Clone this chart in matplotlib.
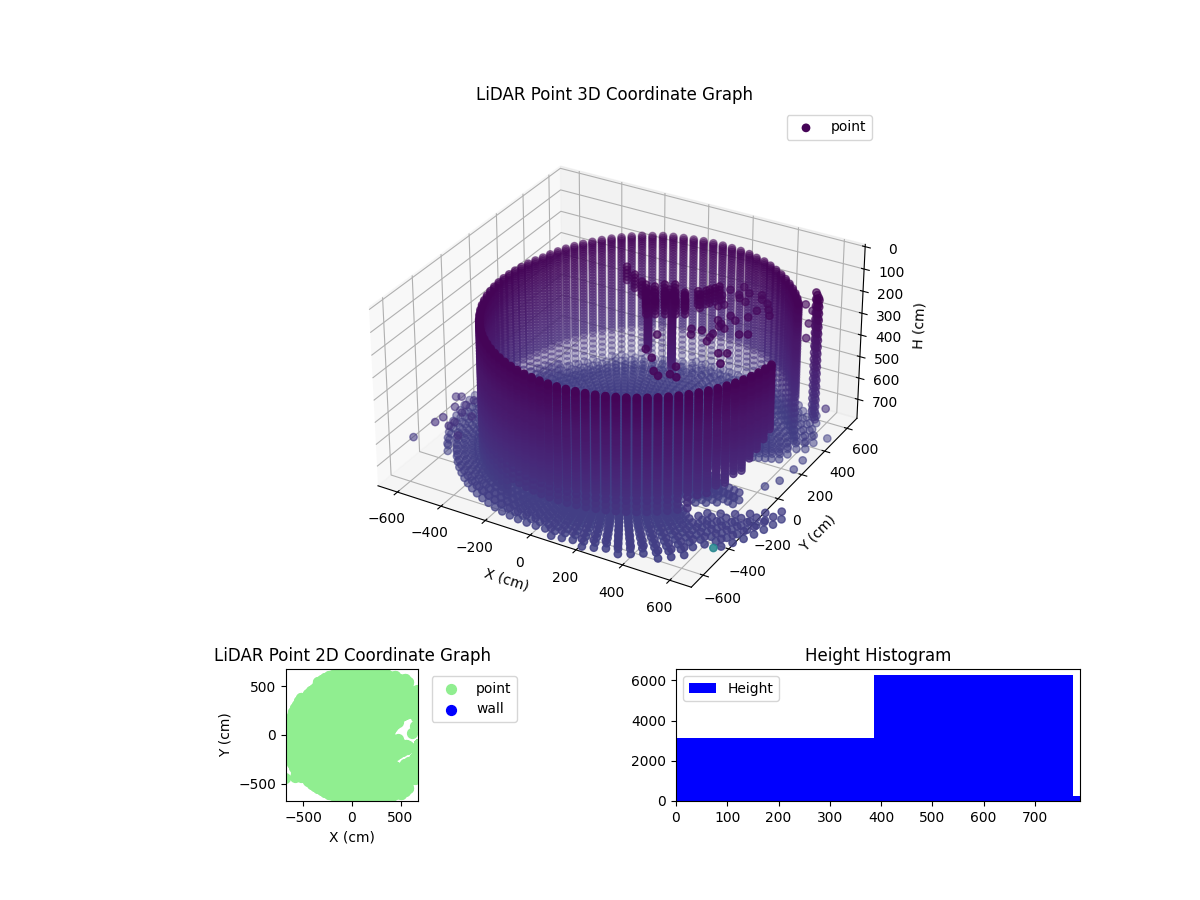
import numpy as np
import matplotlib
matplotlib.use('Agg')
import matplotlib.pyplot as plt

# Values: the scan is kept as azimuth columns and height rows

# Scan azimuths (deg)
SCAN_AZ = [-180.0, -176.4, -172.8, -169.2, -165.6, -162.0, -158.4, -154.8, -151.2, -147.6,
           -144.0, -140.4, -136.8, -133.2, -129.6, -126.0, -122.4, -118.8, -115.2, -111.6,
           -108.0, -104.4, -100.8, -97.2, -93.6, -90.0, -86.4, -82.8, -79.2, -75.6,
           -72.0, -68.4, -64.8, -61.2, -57.6, -54.0, -50.4, -46.8, -43.2, -39.6,
           -36.0, -32.4, -28.8, -25.2, -21.6, -18.0, -14.4, -10.8, -7.2, -3.6,
           0.0, 3.6, 7.2, 10.8, 14.4, 18.0, 21.6, 25.2, 28.8, 32.4,
           36.0, 39.6, 43.2, 46.8, 50.4, 54.0, 57.6, 61.2, 64.8, 68.4,
           72.0, 75.6, 79.2, 82.8, 86.4, 90.0, 93.6, 97.2, 100.8, 104.4,
           108.0, 111.6, 115.2, 118.8, 122.4, 126.0, 129.6, 133.2, 136.8, 140.4,
           144.0, 147.6, 151.2, 154.8, 158.4, 162.0, 165.6, 169.2, 172.8, 176.4]

# Wall: lowest height per azimuth, 0 means no wall there
WALL_BOTTOM = ([720] * 19 + [640] * 20 + [600, 590, 580, 570, 550, 540, 510, 480, 450, 430] + [0] * 12
               + [770] * 39)
WALL_H = [140, 148, 156, 165, 175, 185, 195, 207, 219, 231, 243, 255, 267, 280, 293, 306,
          319, 332, 345, 358, 371, 384, 397, 410, 423, 436, 449, 462, 475, 488, 501, 514,
          527, 540, 553, 566, 590, 615, 640, 665, 690, 720, 745, 770]
# Wall radius per azimuth, a bit larger towards the back
WALL_R = [610, 610, 610, 610, 610, 610, 610, 610, 610, 610,
          610, 610, 610, 610, 610, 610, 610, 610, 610, 610,
          610, 610, 610, 610, 610, 610, 610, 610, 610, 610,
          610, 610, 610, 610, 610, 610, 610, 610, 610, 610,
          610, 610, 610, 610, 610, 610, 610, 610, 610, 610,
          610, 610, 610, 610, 610, 610, 610, 610, 610, 610,
          610, 620, 625, 630, 635, 640, 645, 650, 655, 660,
          665, 665, 670, 670, 670, 670, 670, 670, 670, 670,
          670, 670, 665, 665, 660, 655, 650, 645, 640, 635,
          630, 625, 620, 615, 610, 610, 610, 610, 610, 610]
WALL_X0 = 85
WALL_Y0 = -15

# Floor: ring radii and outer edge per azimuth
FLOOR_R = [15, 30, 45, 60, 75, 90, 105, 120, 135, 150, 165, 180, 195, 210, 230, 250, 270, 290,
           315, 340, 365, 390, 415, 440, 465, 490, 515, 540, 565, 590, 620, 650, 685, 720, 755, 795]
FLOOR_EDGE = [700, 700, 700, 700, 700, 700, 700, 700, 700, 690,
              670, 660, 650, 650, 650, 660, 660, 670, 680, 680,
              680, 680, 680, 680, 680, 680, 680, 690, 700, 710,
              720, 730, 745, 760, 780, 790, 800, 800, 800, 790,
              760, 440, 460, 500, 530, 560, 590, 600, 480, 400,
              370, 380, 400, 420, 440, 470, 620, 680, 720, 760,
              780, 790, 800, 800, 780, 760, 740, 730, 710, 700,
              690, 690, 690, 690, 690, 690, 690, 680, 680, 680,
              680, 680, 670, 660, 650, 640, 640, 640, 640, 640,
              650, 650, 650, 650, 650, 660, 670, 680, 680, 680]
FLOOR_LEVELS = [735, 770]

# Floor beyond the notch on the right side
NOTCH_AZ = [-32.4, -28.8, -25.2, -21.6, -18.0, -14.4, -10.8]
NOTCH_R = [[620, 650, 685, 720, 755, 795], [620, 650, 685, 720, 755, 795], [650, 685, 720, 755, 795],
           [685, 720, 755, 795], [720, 755, 795], [755, 795], [795]]

# Dark structure hanging inside the room, stacked over a few layers
FIG_LAYERS = [-30, -15, 0, 15, 30]
FIG_X = [-138, -79, -27, 37, 99, 169, 219, 232, 253,
         -1, 31, 64, 61, 94, 62, 94, 127, 97, 129, 162, 161, 193, 200, 225, 245,
         26, 26, 26, 26, 26, 26, 26, 26, 26, 26,
         126, 126, 126, 126, 126, 126, 126, 126, 126, 126, 126, 126]
FIG_Y = [277, 236, 200, 190, 198, 191, 220, 275, 315,
         186, 130, 74, 148, 91, 223, 166, 110, 243, 186, 130, 205, 149, 240, 260, 295,
         156, 156, 156, 156, 156, 156, 156, 156, 156, 156,
         166, 166, 166, 166, 166, 166, 166, 166, 166, 166, 166, 166]
FIG_H = [150, 150, 150, 150, 150, 150, 150, 150, 150,
         150, 150, 150, 150, 150, 150, 150, 150, 150, 150, 150, 150, 150, 150, 150, 150,
         150, 175, 200, 225, 250, 275, 300, 325, 345, 365,
         150, 175, 200, 225, 250, 275, 300, 325, 350, 375, 400, 420]

# Loose points inside the room
LOOSE_X = [245, 251, 288, 314, 349, 379, 274, 288, 352, 415, 326, 378, 448, 477, 367, 359, 353, 362,
           448, 477, 492, 196, 248, 179, 303, 334, 359, 367, 398,
           260, 300, 330, 395, 430, 455, 480, 420, 385, 350, 310, 290, 270]
LOOSE_Y = [354, 409, 456, 368, 351, 431, 269, 290, 224, 248, 170, 124, 112, 129, 5, 68, 129, 37,
           -54, -38, -119, -162, -208, -44, -291, -313, -221, -281, -289,
           320, 390, 420, 400, 380, 340, 300, 310, 200, 150, 70, 20, 60]
LOOSE_H = [180] * 42

# Dark column on the right side
STREAK_X = [628, 643, 615, 653]
STREAK_Y = [409, 391, 426, 376]
STREAK_H = [100, 130, 160, 190, 220, 250, 280, 310, 340, 370, 400, 430, 460, 490, 520, 550, 580, 610, 640]

# Outliers around the room and past the notch in the floor
OUT_X = [-585, -578, -524, -520, -454, -581, -620, -601, -551, -544, -583, -534, -486, -688,
         682, 670, 660, 660, 651, 620, 650, 600, 620, 560, 590,
         628, 628, 628, 628, 628, 628, 628, 628]
OUT_Y = [-437, -391, -434, -400, -477, -302, -234, -223, -268, -223, -98, -325, -330, -440,
         410, 462, 267, 190, -449, 25, 90, 400, 340, 450, 450,
         408, 408, 408, 408, 408, 408, 408, 408]
OUT_H = [600, 600, 600, 600, 600, 600, 600, 600, 600, 600, 600, 600, 600, 700,
         600, 770, 770, 770, 770, 770, 770, 230, 260, 180, 200,
         120, 150, 180, 210, 240, 270, 300, 330]
OUT_C = [600, 600, 600, 600, 600, 600, 600, 600, 600, 600, 600, 600, 600, 700,
         600, 770, 770, 770, 1700, 770, 770, 230, 260, 180, 200,
         120, 150, 180, 210, 240, 270, 300, 330]

# Height histogram
HIST_EDGES = [0, 387, 774, 788]
HIST_COUNTS = [3130, 6250, 250]

x_pts, y_pts, z_pts, c_pts = [], [], [], []

def add_point(x, y, z, c=None):
    x_pts.append(x)
    y_pts.append(y)
    z_pts.append(z)
    c_pts.append(z if c is None else c)

for az, bottom, wall_r in zip(SCAN_AZ, WALL_BOTTOM, WALL_R):
    if bottom == 0:
        continue
    for h in WALL_H:
        if h <= bottom:
            add_point(WALL_X0 + wall_r * np.cos(np.radians(az)),
                      WALL_Y0 + wall_r * np.sin(np.radians(az)), h)

for level in FLOOR_LEVELS:
    for az, edge in zip(SCAN_AZ, FLOOR_EDGE):
        for r in FLOOR_R:
            if r <= edge:
                add_point(r * np.cos(np.radians(az)), r * np.sin(np.radians(az)), level)
    for az, radii in zip(NOTCH_AZ, NOTCH_R):
        for r in radii:
            add_point(r * np.cos(np.radians(az)), r * np.sin(np.radians(az)), level)

for x, y, h in zip(FIG_X, FIG_Y, FIG_H):
    for dh in FIG_LAYERS:
        add_point(x, y, h + dh)
for x, y, h in zip(LOOSE_X, LOOSE_Y, LOOSE_H):
    add_point(x, y, h)
for x, y in zip(STREAK_X, STREAK_Y):
    for h in STREAK_H:
        add_point(x, y, h)
for x, y, h, c in zip(OUT_X, OUT_Y, OUT_H, OUT_C):
    add_point(x, y, h, c)

fig = plt.figure(figsize=(12, 9), dpi=100)

# 3D graph
ax3d = fig.add_axes([150 / 1200, 264 / 900, 930 / 1200, 528 / 900], projection='3d')
ax3d.set_box_aspect((1, 1, 0.57))
ax3d.scatter(x_pts, y_pts, z_pts, c=c_pts, cmap='viridis', vmin=100, vmax=3600,
             s=28, label='point')
ax3d.set_xlim(-690, 690)
ax3d.set_ylim(-690, 690)
ax3d.set_zlim(790, -10)
ax3d.set_xticks([-600, -400, -200, 0, 200, 400, 600])
ax3d.set_yticks([-600, -400, -200, 0, 200, 400, 600])
ax3d.set_zticks([0, 100, 200, 300, 400, 500, 600, 700])
ax3d.set_xlabel('X (cm)')
ax3d.set_ylabel('Y (cm)')
ax3d.set_zlabel('H (cm)')
ax3d.set_title('LiDAR Point 3D Coordinate Graph')
ax3d.legend(loc='upper right')

# 2D graph
ax2d = fig.add_axes([286 / 1200, 99 / 900, 132 / 1200, 132 / 900])
ax2d.scatter(x_pts, y_pts, c='lightgreen', s=50, label='point')
ax2d.scatter([], [], c='blue', s=50, label='wall')
ax2d.set_xlim(-680, 680)
ax2d.set_ylim(-680, 680)
ax2d.set_xticks([-500, 0, 500])
ax2d.set_yticks([-500, 0, 500])
ax2d.set_xlabel('X (cm)')
ax2d.set_ylabel('Y (cm)')
ax2d.set_title('LiDAR Point 2D Coordinate Graph')
ax2d.legend(loc='upper left', bbox_to_anchor=(1.05, 1))

# Histogram
axh = fig.add_axes([676 / 1200, 99 / 900, 404 / 1200, 132 / 900])
axh.hist(HIST_EDGES[:-1], bins=HIST_EDGES, weights=HIST_COUNTS, color='blue', label='Height')
axh.set_xlim(0, 788)
axh.set_xticks([0, 100, 200, 300, 400, 500, 600, 700])
axh.set_title('Height Histogram')
axh.legend(loc='upper left')

plt.savefig('out.png')
